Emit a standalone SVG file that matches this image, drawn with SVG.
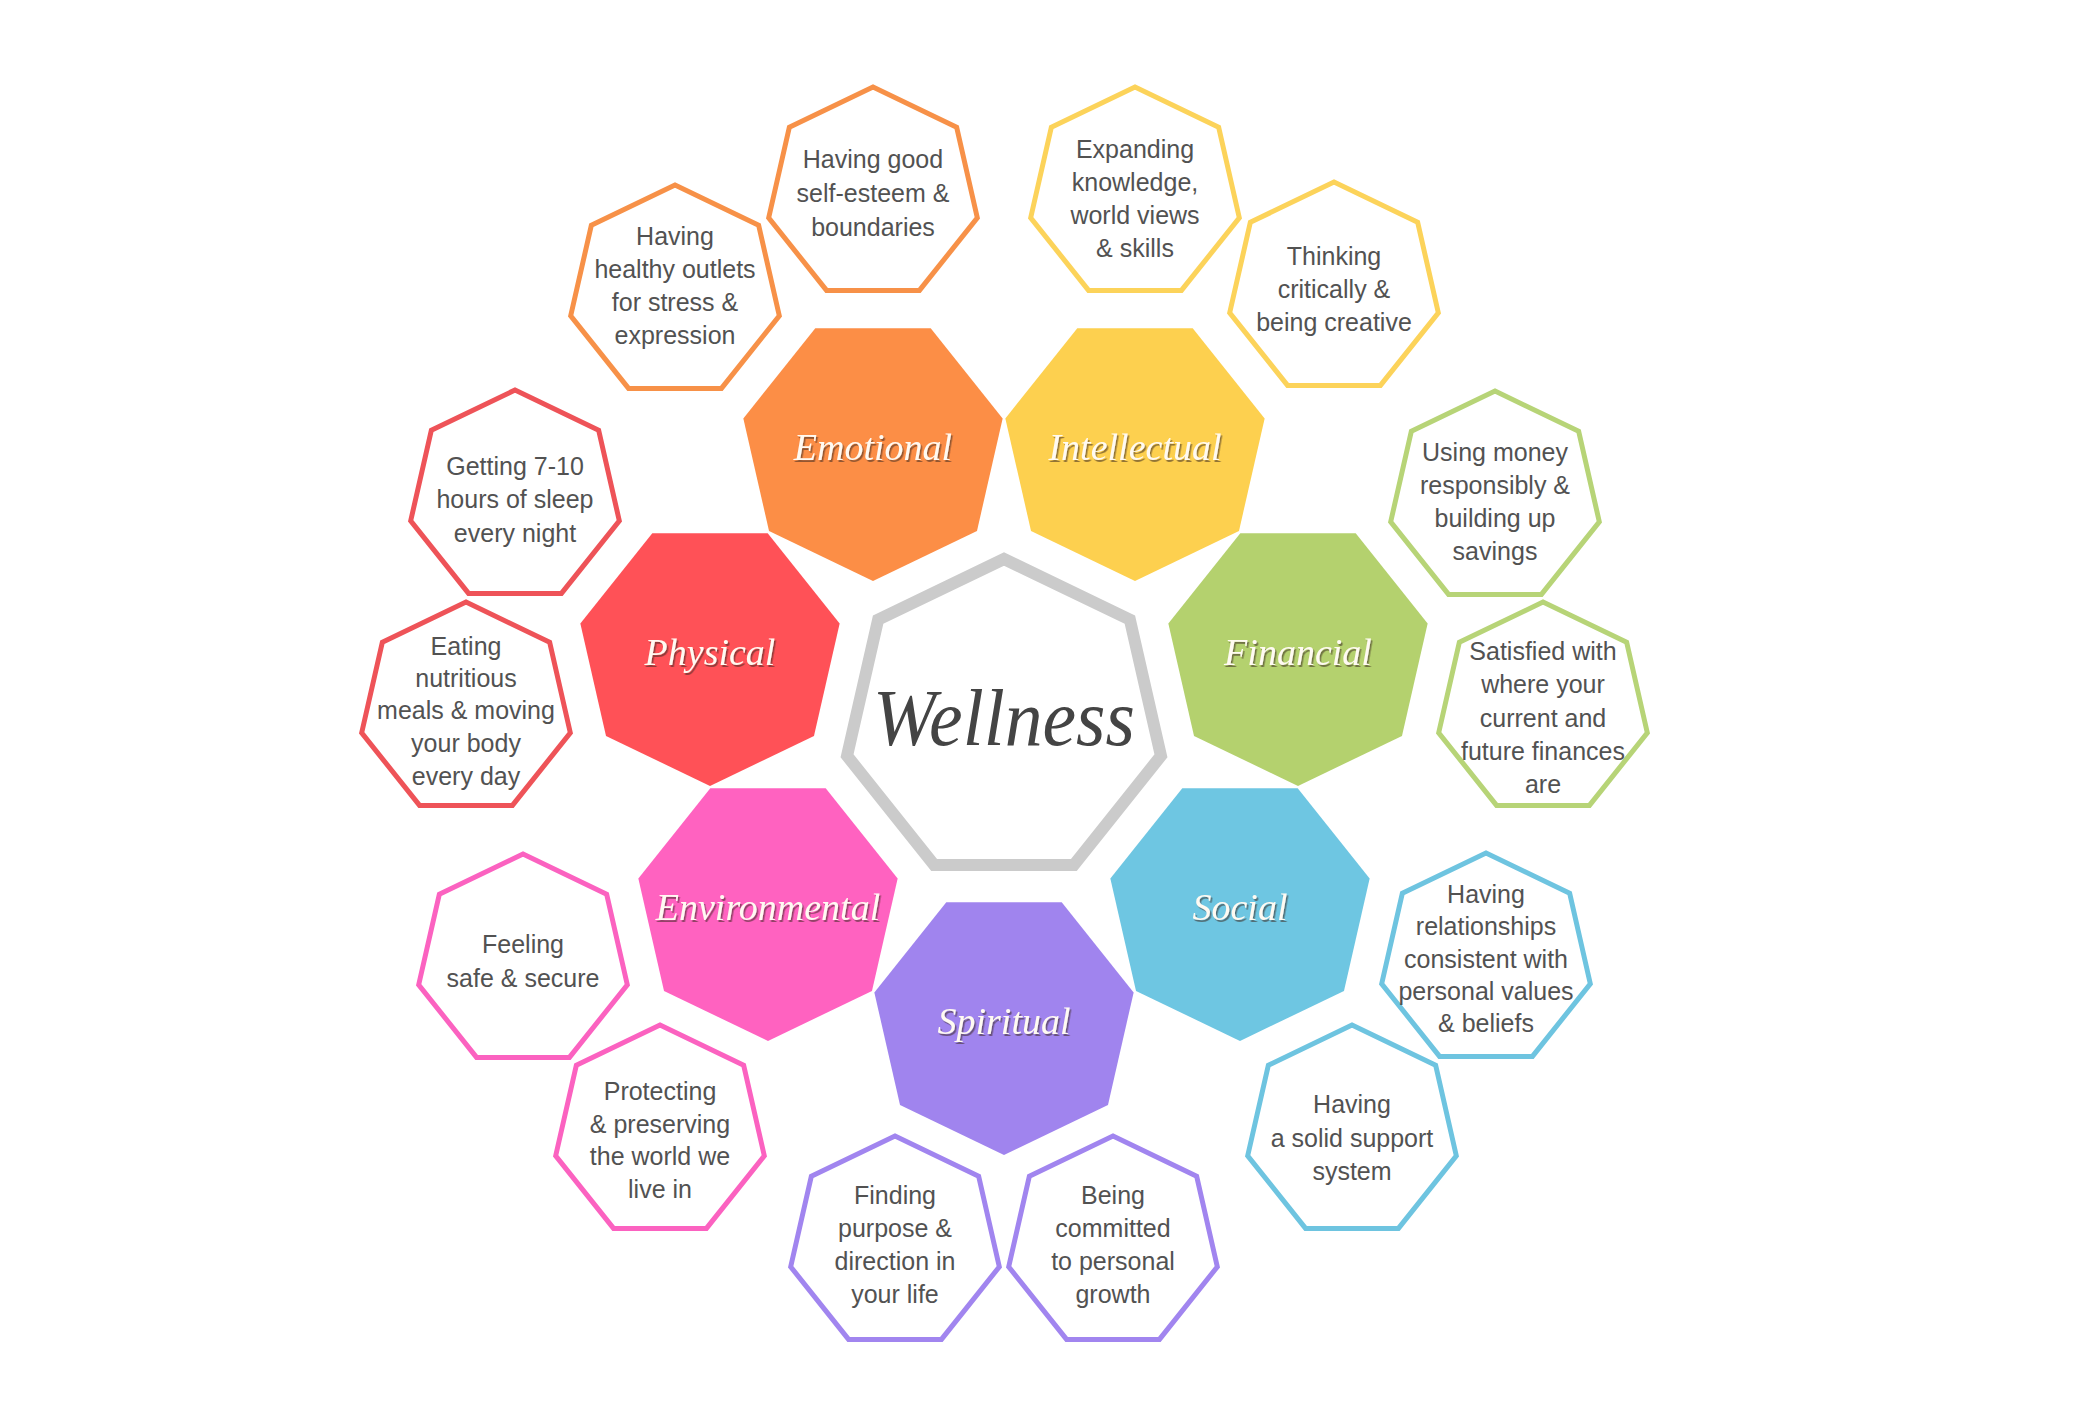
<svg xmlns="http://www.w3.org/2000/svg" xmlns:xlink="http://www.w3.org/1999/xlink" width="2080" height="1416" viewBox="0 0 2080 1416">
<defs>
<polygon id="hd" points="0,133 -103.98,82.93 -129.66,-29.59 -57.71,-119.83 57.71,-119.83 129.66,-29.59 103.98,82.93"/>
<polygon id="hu" points="0,-107 83.65,-66.71 104.31,23.81 46.43,96.41 -46.43,96.41 -104.31,23.81 -83.65,-66.71"/>
<filter id="sh" x="-10%" y="-30%" width="120%" height="160%">
<feDropShadow dx="1.5" dy="2" stdDeviation="0.6" flood-color="#3a2a20" flood-opacity="0.55"/>
</filter>
</defs>
<style>
.lbl{font-family:"Liberation Serif","DejaVu Serif",serif;font-style:italic;font-size:38px;fill:#fffaf2;text-anchor:middle;filter:url(#sh)}
.t{font-family:"Liberation Sans","DejaVu Sans",sans-serif;font-size:25px;fill:#525252;text-anchor:middle}
.o{fill:none;stroke-width:5;stroke-linejoin:miter}
.ce{stroke:#F79148}.ci{stroke:#FCD35A}.cf{stroke:#B7D477}.cs{stroke:#6EC4E0}.cp{stroke:#A185EF}.cv{stroke:#FB62C0}.cy{stroke:#EE5358}
</style>
<rect width="2080" height="1416" fill="#ffffff"/>

<g id="wellness">
<polygon points="1004,559 1129.87,619.62 1160.96,755.82 1073.86,865.06 934.14,865.06 847.04,755.82 878.13,619.62" fill="#ffffff" stroke="#CBCBCB" stroke-width="12"/>
<text x="1004" y="745" font-family="Liberation Serif, DejaVu Serif, serif" font-style="italic" font-size="80" fill="#444444" text-anchor="middle" textLength="262" lengthAdjust="spacingAndGlyphs">Wellness</text>
</g>

<g id="emotional">
<use xlink:href="#hd" href="#hd" transform="translate(873,448)" fill="#FC8E46"/>
<text class="lbl" x="873" y="460">Emotional</text>
</g>
<g id="intellectual">
<use xlink:href="#hd" href="#hd" transform="translate(1135,448)" fill="#FDD04F"/>
<text class="lbl" x="1135" y="460">Intellectual</text>
</g>
<g id="financial">
<use xlink:href="#hd" href="#hd" transform="translate(1298,653)" fill="#B4D16E"/>
<text class="lbl" x="1298" y="665">Financial</text>
</g>
<g id="social">
<use xlink:href="#hd" href="#hd" transform="translate(1240,908)" fill="#6EC6E2"/>
<text class="lbl" x="1240" y="920">Social</text>
</g>
<g id="spiritual">
<use xlink:href="#hd" href="#hd" transform="translate(1004,1022)" fill="#A084EE"/>
<text class="lbl" x="1004" y="1034">Spiritual</text>
</g>
<g id="environmental">
<use xlink:href="#hd" href="#hd" transform="translate(768,908)" fill="#FF62C0"/>
<text class="lbl" x="768" y="920">Environmental</text>
</g>
<g id="physical">
<use xlink:href="#hd" href="#hd" transform="translate(710,653)" fill="#FF5157"/>
<text class="lbl" x="710" y="665">Physical</text>
</g>

<g id="self-esteem">
<use xlink:href="#hu" href="#hu" class="o ce" transform="translate(873,194)"/>
<text class="t" x="873"><tspan x="873" y="168">Having good</tspan><tspan x="873" y="202">self-esteem &amp;</tspan><tspan x="873" y="236">boundaries</tspan></text>
</g>
<g id="outlets">
<use xlink:href="#hu" href="#hu" class="o ce" transform="translate(675,292)"/>
<text class="t" x="675"><tspan x="675" y="245">Having</tspan><tspan x="675" y="278">healthy outlets</tspan><tspan x="675" y="311">for stress &amp;</tspan><tspan x="675" y="344">expression</tspan></text>
</g>
<g id="expanding">
<use xlink:href="#hu" href="#hu" class="o ci" transform="translate(1135,194)"/>
<text class="t" x="1135"><tspan x="1135" y="158">Expanding</tspan><tspan x="1135" y="191">knowledge,</tspan><tspan x="1135" y="224">world views</tspan><tspan x="1135" y="257">&amp; skills</tspan></text>
</g>
<g id="thinking">
<use xlink:href="#hu" href="#hu" class="o ci" transform="translate(1334,289)"/>
<text class="t" x="1334"><tspan x="1334" y="265">Thinking</tspan><tspan x="1334" y="298">critically &amp;</tspan><tspan x="1334" y="331">being creative</tspan></text>
</g>
<g id="money">
<use xlink:href="#hu" href="#hu" class="o cf" transform="translate(1495,498)"/>
<text class="t" x="1495"><tspan x="1495" y="461">Using money</tspan><tspan x="1495" y="494">responsibly &amp;</tspan><tspan x="1495" y="527">building up</tspan><tspan x="1495" y="560">savings</tspan></text>
</g>
<g id="satisfied">
<use xlink:href="#hu" href="#hu" class="o cf" transform="translate(1543,709)"/>
<text class="t" x="1543"><tspan x="1543" y="660">Satisfied with</tspan><tspan x="1543" y="693">where your</tspan><tspan x="1543" y="727">current and</tspan><tspan x="1543" y="760">future finances</tspan><tspan x="1543" y="793">are</tspan></text>
</g>
<g id="relationships">
<use xlink:href="#hu" href="#hu" class="o cs" transform="translate(1486,960)"/>
<text class="t" x="1486"><tspan x="1486" y="903">Having</tspan><tspan x="1486" y="935">relationships</tspan><tspan x="1486" y="968">consistent with</tspan><tspan x="1486" y="1000">personal values</tspan><tspan x="1486" y="1032">&amp; beliefs</tspan></text>
</g>
<g id="support">
<use xlink:href="#hu" href="#hu" class="o cs" transform="translate(1352,1132)"/>
<text class="t" x="1352"><tspan x="1352" y="1113">Having</tspan><tspan x="1352" y="1147">a solid support</tspan><tspan x="1352" y="1180">system</tspan></text>
</g>
<g id="committed">
<use xlink:href="#hu" href="#hu" class="o cp" transform="translate(1113,1243)"/>
<text class="t" x="1113"><tspan x="1113" y="1204">Being</tspan><tspan x="1113" y="1237">committed</tspan><tspan x="1113" y="1270">to personal</tspan><tspan x="1113" y="1303">growth</tspan></text>
</g>
<g id="purpose">
<use xlink:href="#hu" href="#hu" class="o cp" transform="translate(895,1243)"/>
<text class="t" x="895"><tspan x="895" y="1204">Finding</tspan><tspan x="895" y="1237">purpose &amp;</tspan><tspan x="895" y="1270">direction in</tspan><tspan x="895" y="1303">your life</tspan></text>
</g>
<g id="protecting">
<use xlink:href="#hu" href="#hu" class="o cv" transform="translate(660,1132)"/>
<text class="t" x="660"><tspan x="660" y="1100">Protecting</tspan><tspan x="660" y="1133">&amp; preserving</tspan><tspan x="660" y="1165">the world we</tspan><tspan x="660" y="1198">live in</tspan></text>
</g>
<g id="feeling">
<use xlink:href="#hu" href="#hu" class="o cv" transform="translate(523,961)"/>
<text class="t" x="523"><tspan x="523" y="953">Feeling</tspan><tspan x="523" y="987">safe &amp; secure</tspan></text>
</g>
<g id="eating">
<use xlink:href="#hu" href="#hu" class="o cy" transform="translate(466,709)"/>
<text class="t" x="466"><tspan x="466" y="655">Eating</tspan><tspan x="466" y="687">nutritious</tspan><tspan x="466" y="719">meals &amp; moving</tspan><tspan x="466" y="752">your body</tspan><tspan x="466" y="785">every day</tspan></text>
</g>
<g id="sleep">
<use xlink:href="#hu" href="#hu" class="o cy" transform="translate(515,497)"/>
<text class="t" x="515"><tspan x="515" y="475">Getting 7-10</tspan><tspan x="515" y="508">hours of sleep</tspan><tspan x="515" y="542">every night</tspan></text>
</g>

<g id="connectors"></g>
</svg>
